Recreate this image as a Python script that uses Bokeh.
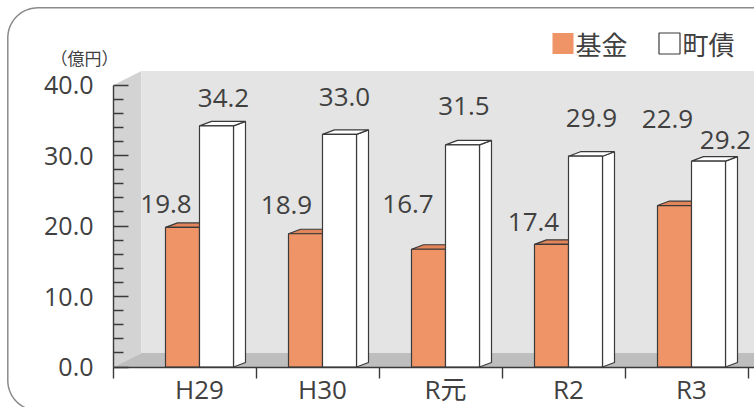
import numpy as np
from bokeh.plotting import figure
from bokeh.models import Range1d, LinearAxis, FixedTicker, NumeralTickFormatter
from bokeh.core.properties import value
from bokeh.embed import file_html
from bokeh.resources import INLINE

# ---------------- data ----------------
categories = ["H29", "H30", "R元", "R2", "R3"]
kikin = [19.8, 18.9, 16.7, 17.4, 22.9]      # 基金
chosai = [34.2, 33.0, 31.5, 29.9, 29.2]     # 町債
series_names = ["基金", "町債"]
y_ticks = [0, 10, 20, 30, 40]
y_minor_ticks = [2, 4, 6, 8, 12, 14, 16, 18, 22, 24, 26, 28, 32, 34, 36, 38]
unit_label = "（億円）"

# ---------------- layout (pixels) ----------------
W, H = 754, 407
PX_PER_CAT = 123.0
PX_PER_UNIT = 7.05
X0_PX = 199.0          # px of the first category centre
Y0_PX = 366.5          # px (from top) of value 0
BAR_PX = 34.0
DEPTH_DX, DEPTH_DY = 12.0, 4.5      # bar 3D depth
WALL_DX, WALL_DY = 28.0, 14.0       # wall / floor depth
AXIS_X_PX = 113.0
SEP_OFFSET = 0.46

# label offsets from bar front-top centre (px, right / up)
kikin_label_dx = [-16.5, -19, -20.5, -18, -7]
kikin_label_dy = [23, 29, 45, 22, 87]
chosai_label_dx = [7, 5, 1.5, 6, 17]
chosai_label_dy = [28, 37, 39, 38, 21]

ORANGE = "#ef9467"
ORANGE_TOP = "#e3855a"
EDGE = "#3a3a3a"
TEXT = "#404040"


def fx(px):
    return (px - X0_PX) / PX_PER_CAT


def fy(py):
    return (Y0_PX - py) / PX_PER_UNIT


def dxu(px):
    return px / PX_PER_CAT


def dyu(py):
    return py / PX_PER_UNIT


x_start, x_end = fx(0), fx(W)
y_start, y_end = fy(H), fy(0)

p = figure(width=W, height=H, x_range=Range1d(x_start, x_end), y_range=Range1d(y_start, y_end),
           output_backend="svg", toolbar_location=None, x_axis_type=None, y_axis_type=None,
           min_border=0)
p.outline_line_color = None
p.background_fill_color = "white"
p.border_fill_color = "white"

# ---------------- outer rounded frame ----------------
R = 30.0
edge_px = 7.3
bottom_px = 410.0
th1 = np.linspace(np.pi / 2, np.pi, 20)
cx1, cy1 = R + edge_px, bottom_px - R
th2 = np.linspace(np.pi, 1.5 * np.pi, 20)
cx2, cy2 = R + edge_px, R + edge_px
bx = np.concatenate([[W + 10], cx1 + R * np.cos(th1), cx2 + R * np.cos(th2), [W + 10]])
by = np.concatenate([[bottom_px], cy1 + R * np.sin(th1), cy2 + R * np.sin(th2), [edge_px]])
p.line([fx(v) for v in bx], [fy(v) for v in by], line_color="#8a8a8a", line_width=1.5)

# ---------------- 3D walls ----------------
xa = fx(AXIS_X_PX)
wdx, wdy = dxu(WALL_DX), dyu(WALL_DY)
top = y_ticks[-1]
p.patch([xa, xa + wdx, xa + wdx, xa], [0, wdy, top + wdy, top], fill_color="#d3d3d3", line_color=None)
p.patch([xa + wdx, x_end, x_end, xa + wdx], [wdy, wdy, top + wdy, top + wdy], fill_color="#e4e4e4", line_color=None)
p.patch([xa, xa + wdx, x_end, x_end], [0, wdy, wdy, 0], fill_color="#bebebe", line_color=None)

# ---------------- bars ----------------
bw = BAR_PX / PX_PER_CAT
ddx, ddy = dxu(DEPTH_DX), dyu(DEPTH_DY)
idx = np.arange(len(categories), dtype=float)


def draw_bars(centers, vals, face, topface, side):
    l = centers - bw / 2
    r = centers + bw / 2
    v = np.asarray(vals, dtype=float)
    p.patches([[ri, ri + ddx, ri + ddx, ri] for ri in r],
              [[0, ddy, vi + ddy, vi] for vi in v],
              fill_color=side, line_color=EDGE, line_width=1.2)
    p.patches([[li, li + ddx, ri + ddx, ri] for li, ri in zip(l, r)],
              [[vi, vi + ddy, vi + ddy, vi] for vi in v],
              fill_color=topface, line_color=EDGE, line_width=1.2)
    p.vbar(x=centers, top=v, bottom=0, width=bw, fill_color=face, line_color=EDGE, line_width=1.2)


kc = idx - bw / 2
cc = idx + bw / 2
draw_bars(kc, kikin, ORANGE, ORANGE_TOP, ORANGE)
draw_bars(cc, chosai, "white", "white", "white")

# ---------------- value labels ----------------
p.text(x=[c + dxu(d) for c, d in zip(kc, kikin_label_dx)],
       y=[v + dyu(d) for v, d in zip(kikin, kikin_label_dy)],
       text=[f"{v:.1f}" for v in kikin], text_align="center", text_baseline="middle",
       text_font=value("Open Sans"), text_font_size="26px", text_color=TEXT)
p.text(x=[c + dxu(d) for c, d in zip(cc, chosai_label_dx)],
       y=[v + dyu(d) for v, d in zip(chosai, chosai_label_dy)],
       text=[f"{v:.1f}" for v in chosai], text_align="center", text_baseline="middle",
       text_font=value("Open Sans"), text_font_size="26px", text_color=TEXT)

# ---------------- axes ----------------
yax = LinearAxis(fixed_location=xa,
                 ticker=FixedTicker(ticks=y_ticks, minor_ticks=y_minor_ticks),
                 formatter=NumeralTickFormatter(format="0.0"),
                 bounds=(0, top))
yax.axis_line_color = EDGE
yax.axis_line_width = 1.4
yax.major_tick_line_color = EDGE
yax.major_tick_line_width = 1.4
yax.minor_tick_line_color = EDGE
yax.minor_tick_line_width = 1.4
yax.major_tick_in = 15
yax.major_tick_out = 0
yax.minor_tick_in = 10
yax.minor_tick_out = 0
yax.major_label_standoff = 20
yax.major_label_text_font = "Open Sans"
yax.major_label_text_font_size = "25px"
yax.major_label_text_color = TEXT
p.add_layout(yax, "left")

seps = [xa] + [i + SEP_OFFSET for i in range(len(categories))]
xax = LinearAxis(fixed_location=0,
                 ticker=FixedTicker(ticks=list(range(len(categories))), minor_ticks=seps),
                 major_label_overrides={i: c for i, c in enumerate(categories)},
                 bounds=(xa - 1e-6, x_end))
xax.axis_line_color = EDGE
xax.axis_line_width = 1.4
xax.major_tick_in = 0
xax.major_tick_out = 0
xax.minor_tick_in = 0
xax.minor_tick_out = 11
xax.minor_tick_line_color = EDGE
xax.minor_tick_line_width = 1.4
xax.major_label_standoff = -7
xax.major_label_text_font = "Open Sans, Noto Sans CJK JP"
xax.major_label_text_font_size = "26px"
xax.major_label_text_color = TEXT
p.add_layout(xax, "below")

# ---------------- unit label ----------------
p.text(x=[fx(84)], y=[fy(57)], text=[unit_label], text_align="center", text_baseline="middle",
       text_font=value("Noto Sans CJK JP"), text_font_size="17px", text_color=TEXT)

# ---------------- legend ----------------
leg_sq_x = [fx(562.5), fx(669)]
leg_txt_x = [fx(575), fx(682)]
leg_y = fy(43)
p.rect(x=leg_sq_x, y=[leg_y, leg_y], width=21, height=21, width_units="screen", height_units="screen",
       fill_color=[ORANGE, "white"], line_color=[None, EDGE], line_width=1.2)
p.text(x=leg_txt_x, y=[leg_y, leg_y], text=series_names, text_align="left", text_baseline="middle",
       text_font=value("Noto Sans CJK JP"), text_font_size="26px", text_color=TEXT)

open("out.html", "w").write(file_html(p, INLINE))
